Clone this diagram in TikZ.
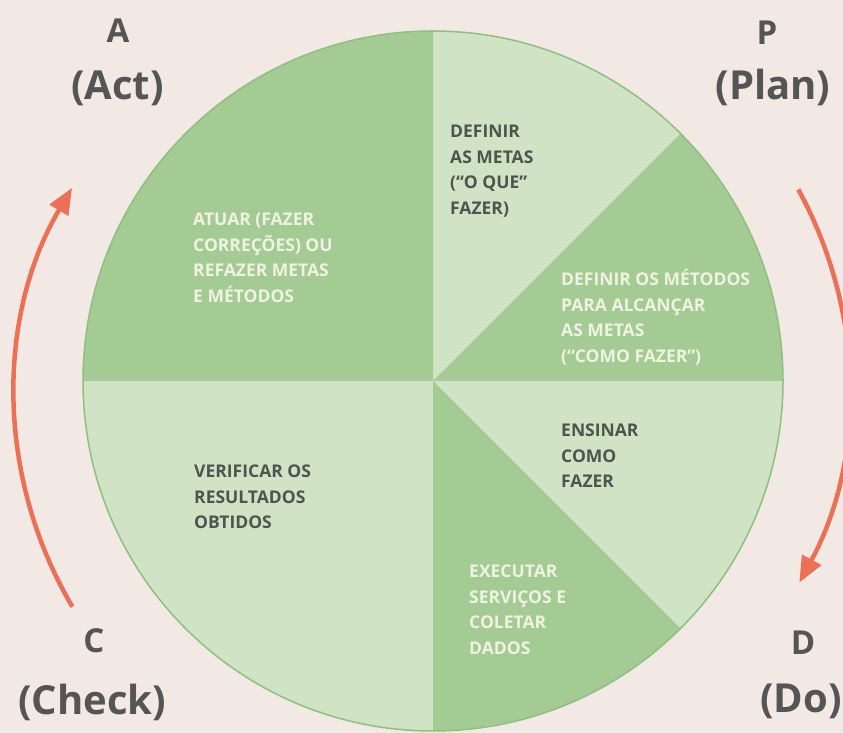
\documentclass[tikz,border=0pt]{standalone}
\usepackage{fontspec}
\setmainfont{Open Sans}
\usetikzlibrary{arrows.meta}
\definecolor{bg}{RGB}{243,233,228}
\definecolor{darkg}{RGB}{164,203,148}
\definecolor{lightg}{RGB}{208,227,197}
\definecolor{rimg}{RGB}{143,192,128}
\definecolor{arrowc}{RGB}{236,112,86}
\definecolor{labelc}{RGB}{85,85,85}
\definecolor{darktxt}{RGB}{78,84,78}
\definecolor{lighttxt}{RGB}{240,242,226}
\begin{document}
\begin{tikzpicture}[x=1pt,y=1pt,
  darksector/.style={fill=darkg},
  secttext/.style={font=\fontsize{17.5}{25.7}\selectfont\bfseries, align=left, anchor=base west, inner sep=0pt},
  ondark/.style={secttext, text=lighttxt},
  onlight/.style={secttext, text=darktxt},
  bigletter/.style={font=\fontsize{33}{36}\selectfont\bfseries, text=labelc, anchor=base, inner sep=0pt},
  bigword/.style={font=\fontsize{40}{44}\selectfont\bfseries, text=labelc, anchor=base, inner sep=0pt},
  cyclearrow/.style={draw=arrowc, line width=4.5pt, -{Triangle[length=26pt,width=21pt]}}
]
\useasboundingbox (0,0) rectangle (843,733);
\clip (0,0) rectangle (843,733);
\fill[bg] (0,0) rectangle (843,733);

% circle
\coordinate (c) at (433,352);
\fill[lightg] (c) circle[radius=350pt];
\fill[darksector] (c) -- ++(90:350pt) arc[start angle=90, end angle=180, radius=350pt] -- cycle;
\fill[darksector] (c) -- ++(0:350pt) arc[start angle=0, end angle=45, radius=350pt] -- cycle;
\fill[darksector] (c) -- ++(-90:350pt) arc[start angle=-90, end angle=-45, radius=350pt] -- cycle;
\draw[rimg, line width=1.5pt] (c) circle[radius=350pt];

% sector texts (anchored at the baseline of the last line)
\node[ondark] (act) at (193,430.5) {ATUAR (FAZER\\CORREÇÕES) OU\\REFAZER METAS\\E MÉTODOS};
\node[onlight] (metas) at (450,518.5) {DEFINIR\\AS METAS\\(“O QUE”\\FAZER)};
\node[ondark] (metodos) at (561,370.5) {DEFINIR OS MÉTODOS\\PARA ALCANÇAR\\AS METAS\\(“COMO FAZER”)};
\node[onlight] (ensinar) at (561,245) {ENSINAR\\COMO\\FAZER};
\node[ondark] (executar) at (469,78.5) {EXECUTAR\\SERVIÇOS E\\COLETAR\\DADOS};
\node[onlight] (verificar) at (194,204) {VERIFICAR OS\\RESULTADOS\\OBTIDOS};

% corner labels
\node[bigletter] (A) at (118,690) {A};
\node[bigword] (Aw) at (117.5,633) {(Act)};
\node[bigletter] (P) at (767,688) {P};
\node[bigword] (Pw) at (773,633) {(Plan)};
\node[bigletter] (C) at (94,80) {C};
\node[bigword] (Cw) at (92,18) {(Check)};
\node[bigletter] (D) at (803,78) {D};
\node[bigword] (Dw) at (801,20) {(Do)};

% cycle arrows
\coordinate (lc) at (427,336);
\path (lc) ++(210.6:412pt) coordinate (l0);
\draw[cyclearrow] (l0) arc[start angle=210.6, end angle=149.5, radius=412pt];
\coordinate (rc) at (439,346);
\path (rc) ++(28.8:410pt) coordinate (r0);
\draw[cyclearrow] (r0) arc[start angle=28.8, end angle=-28.5, radius=410pt];
\end{tikzpicture}
\end{document}
